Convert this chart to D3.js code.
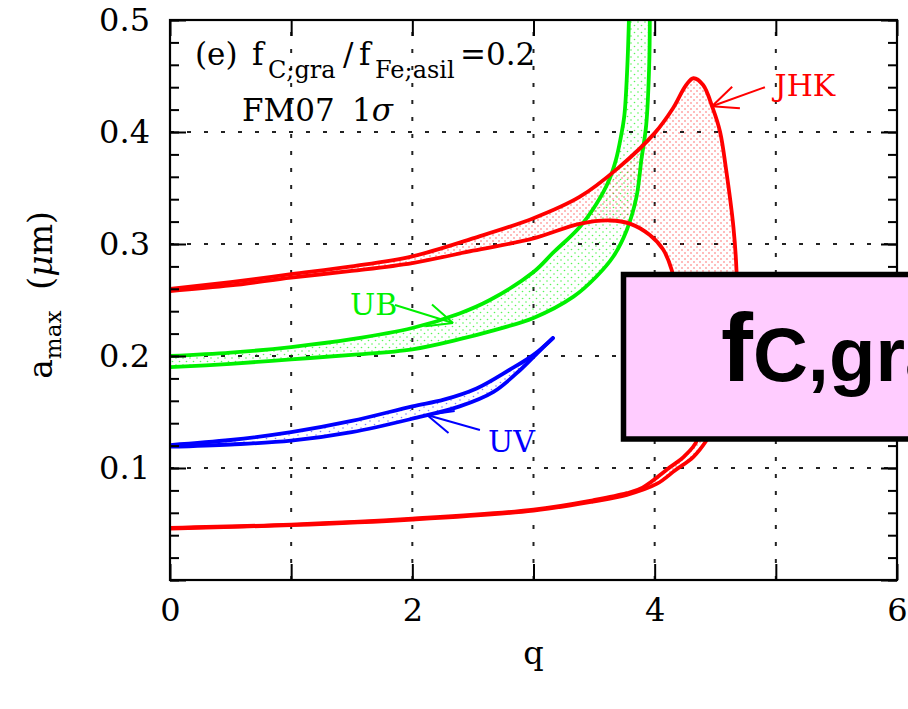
<!DOCTYPE html>
<html>
<head>
<meta charset="utf-8">
<script src="https://cdn.jsdelivr.net/npm/d3@7"></script>
<style>
  html, body { margin: 0; padding: 0; background: #fff; overflow: hidden; }
  svg { display: block; }
  .serif { font-family: "DejaVu Serif", serif; }
</style>
</head>
<body>
<svg id="chart" width="908" height="709"></svg>
<script>
// ---- data: [q, a_max (um)] ----
// JHK: outer boundary (top curve, round the right side, back along the bottom)
const jhkOuter = [[0,0.260],[0.5,0.266],[1,0.273],[1.5,0.280],[2,0.289],[2.5,0.305],[3,0.323],
  [3.38,0.342],[3.7,0.368],[4.0,0.399],[4.15,0.421],[4.26,0.442],[4.32,0.448],[4.4,0.442],
  [4.48,0.421],[4.54,0.400],[4.59,0.366],[4.65,0.315],[4.675,0.277],[4.68,0.24],[4.66,0.196],
  [4.6,0.165],[4.52,0.143],[4.43,0.125],[4.32,0.110],[4.17,0.098],[4.02,0.086],[3.77,0.076],
  [3.49,0.070],[3.0,0.062],[2.0,0.054],[1.0,0.049],[0,0.046]];
// JHK: inner boundary
const jhkInner = [[0,0.258],[0.5,0.263],[1,0.270],[1.5,0.276],[2,0.283],[2.5,0.294],[3,0.305],
  [3.38,0.318],[3.63,0.321],[3.80,0.318],[3.96,0.308],[4.07,0.295],[4.14,0.277],[4.2,0.241],
  [4.26,0.205],[4.31,0.17],[4.34,0.143],[4.35,0.125],[4.24,0.110],[4.13,0.101],[3.9,0.0825],
  [3.77,0.0775],[3.49,0.0712],[3.0,0.0628],[2.0,0.0548],[1.0,0.0495],[0,0.0465]];
// UB band
const ubUpper = [[0,0.200],[0.5,0.203],[1,0.208],[1.5,0.215],[2,0.225],[2.39,0.238],[2.64,0.250],
  [3.0,0.275],[3.16,0.292],[3.38,0.315],[3.52,0.336],[3.62,0.356],[3.68,0.375],[3.72,0.395],
  [3.75,0.415],[3.775,0.46],[3.79,0.51]];
const ubLower = [[0,0.190],[0.5,0.193],[1,0.197],[1.5,0.201],[2,0.206],[2.39,0.215],[2.64,0.222],
  [3.0,0.234],[3.33,0.253],[3.52,0.271],[3.66,0.289],[3.77,0.3125],[3.85,0.342],[3.89,0.375],
  [3.93,0.406],[3.955,0.46],[3.96,0.51]];
// UV band
const uvUpper = [[0,0.1205],[0.5,0.125],[1,0.132],[1.5,0.142],[2,0.155],[2.26,0.161],[2.53,0.171],
  [2.8,0.1875],[3.0,0.201],[3.16,0.216]];
const uvLower = [[0,0.119],[0.5,0.121],[1,0.1244],[1.5,0.132],[2,0.144],[2.39,0.155],[2.67,0.168],
  [2.89,0.1875],[3.03,0.2024],[3.16,0.216]];

const xTicks = [0, 1, 2, 3, 4, 5, 6];
const xTickLabels = [0, 2, 4, 6];
const yTicks = [0, 0.1, 0.2, 0.3, 0.4, 0.5];
const yMinorTicks = d3.range(0, 0.5001, 0.02);
const gridX = [1, 2, 3, 4, 5];
const gridY = [0.1, 0.2, 0.3, 0.4];

const RED = '#ff0000', GREEN = '#00f000', BLUE = '#0000ff';

const svg = d3.select('#chart');
const x = d3.scaleLinear().domain([0, 6]).range([170, 897]);
const y = d3.scaleLinear().domain([0, 0.5]).range([580, 20]);

// dot fill patterns
const defs = svg.append('defs');
const dotPattern = (id, color, w, h, op) => {
  const p = defs.append('pattern').attr('id', id).attr('patternUnits', 'userSpaceOnUse')
    .attr('width', w).attr('height', h);
  p.append('circle').attr('cx', 1).attr('cy', 1).attr('r', 0.8).attr('fill', color).attr('opacity', op);
  p.append('circle').attr('cx', 1 + w / 2).attr('cy', 1 + h / 2).attr('r', 0.8).attr('fill', color).attr('opacity', op);
};
dotPattern('dotRed', RED, 6, 6, 0.6);
dotPattern('dotGreen', GREEN, 7, 7, 0.65);
dotPattern('dotBlue', BLUE, 9, 7, 0.5);

defs.append('clipPath').attr('id', 'plotClip')
  .append('rect').attr('x', 170).attr('y', 20).attr('width', 727).attr('height', 560);

// grid
const grid = svg.append('g').attr('stroke', '#222').attr('stroke-width', 2).attr('stroke-dasharray', '4,13');
grid.selectAll('.gx').data(gridX).enter().append('line')
  .attr('x1', d => x(d)).attr('x2', d => x(d)).attr('y1', y(0)).attr('y2', y(0.5));
grid.selectAll('.gy').data(gridY).enter().append('line')
  .attr('y1', d => y(d)).attr('y2', d => y(d)).attr('x1', x(0)).attr('x2', x(6));

const line = d3.line().x(d => x(d[0])).y(d => y(d[1])).curve(d3.curveCatmullRom.alpha(0.5));
const band = (a, b) => line(a) + 'L' + line(b.slice().reverse()).slice(1) + 'Z';

const plot = svg.append('g').attr('clip-path', 'url(#plotClip)');

// shaded regions
plot.append('path').attr('d', band(ubUpper, ubLower)).attr('fill', 'url(#dotGreen)');
plot.append('path').attr('d', band(jhkOuter, jhkInner)).attr('fill', 'url(#dotRed)');
plot.append('path').attr('d', band(uvUpper, uvLower)).attr('fill', 'url(#dotBlue)');

// boundary curves
const curves = [
  { pts: ubUpper, color: GREEN }, { pts: ubLower, color: GREEN },
  { pts: jhkOuter, color: RED }, { pts: jhkInner, color: RED },
  { pts: uvUpper, color: BLUE }, { pts: uvLower, color: BLUE }
];
plot.selectAll('.curve').data(curves).enter().append('path')
  .attr('d', d => line(d.pts)).attr('fill', 'none').attr('stroke', d => d.color)
  .attr('stroke-width', 3.8).attr('stroke-linejoin', 'round').attr('stroke-linecap', 'round');

// labels with arrows
const labels = [
  { text: 'JHK', color: RED, pos: [4.99, 0.432], tail: [4.91, 0.440], tip: [4.473, 0.423] },
  { text: 'UB', color: GREEN, pos: [1.486, 0.2366], tail: [1.857, 0.2455], tip: [2.336, 0.2295] },
  { text: 'UV', color: BLUE, pos: [2.624, 0.1143], tail: [2.558, 0.134], tip: [2.121, 0.1473] }
];
labels.forEach(l => {
  const tx = x(l.tail[0]), ty = y(l.tail[1]), hx = x(l.tip[0]), hy = y(l.tip[1]);
  const ang = Math.atan2(ty - hy, tx - hx);
  const g = svg.append('g').attr('stroke', l.color).attr('stroke-width', 2).attr('fill', 'none');
  g.append('line').attr('x1', tx).attr('y1', ty).attr('x2', hx).attr('y2', hy);
  [-0.42, 0.42].forEach(da => {
    g.append('line').attr('x1', hx).attr('y1', hy)
      .attr('x2', hx + 28 * Math.cos(ang + da)).attr('y2', hy + 28 * Math.sin(ang + da));
  });
  svg.append('text').attr('class', 'serif').attr('x', x(l.pos[0])).attr('y', y(l.pos[1]))
    .attr('font-size', 30).attr('fill', l.color).text(l.text);
});

// axes (ticks inside)
const axes = svg.append('g').attr('class', 'serif');
axes.append('g').attr('transform', `translate(0,${y(0)})`)
  .call(d3.axisBottom(x).tickValues(xTicks).tickSize(-16).tickPadding(18)
    .tickFormat(d => xTickLabels.includes(d) ? d : ''));
axes.append('g').attr('transform', `translate(0,${y(0.5)})`)
  .call(d3.axisTop(x).tickValues(xTicks).tickSize(-16).tickFormat(''));
const axLeft = axes.append('g').attr('transform', `translate(${x(0)},0)`)
  .call(d3.axisLeft(y).tickValues(yTicks).tickSize(-16).tickPadding(20).tickFormat(d3.format('.1f')));
axLeft.selectAll('.tick').filter(d => d === 0).select('text').remove();
axes.append('g').attr('transform', `translate(${x(6)},0)`)
  .call(d3.axisRight(y).tickValues(yTicks).tickSize(-16).tickFormat(''));
axes.append('g').attr('transform', `translate(${x(0)},0)`)
  .call(d3.axisLeft(y).tickValues(yMinorTicks).tickSize(-9).tickFormat(''));
axes.append('g').attr('transform', `translate(${x(6)},0)`)
  .call(d3.axisRight(y).tickValues(yMinorTicks).tickSize(-9).tickFormat(''));
axes.selectAll('.domain').remove();
axes.selectAll('.tick line').attr('stroke', '#000').attr('stroke-width', 2);
axes.selectAll('.tick text').attr('font-size', 32).attr('fill', '#000')
  .attr('font-family', '"DejaVu Serif", serif');

svg.append('rect').attr('x', x(0)).attr('y', y(0.5)).attr('width', x(6) - x(0)).attr('height', y(0) - y(0.5))
  .attr('fill', 'none').attr('stroke', '#000').attr('stroke-width', 2.2);

// axis titles
svg.append('text').attr('class', 'serif').attr('x', x(3)).attr('y', 664)
  .attr('text-anchor', 'middle').attr('font-size', 32).text('q');
const yl = svg.append('text').attr('class', 'serif').attr('transform', 'translate(52,295) rotate(-90)')
  .attr('text-anchor', 'middle').attr('font-size', 33);
yl.append('tspan').text('a');
yl.append('tspan').attr('font-size', 23).attr('dy', 9).text('max');
yl.append('tspan').attr('dy', -9).text('\u00a0\u00a0(');
yl.append('tspan').attr('font-style', 'italic').text('\u03bc');
yl.append('tspan').text('m)');

// panel annotation
const ann = svg.append('text').attr('class', 'serif').attr('font-size', 31).attr('fill', '#000');
ann.append('tspan').attr('x', 195).attr('y', 65).text('(e)');
ann.append('tspan').attr('x', 252).attr('y', 65).text('f');
ann.append('tspan').attr('x', 268).attr('y', 78).attr('font-size', 24).text('C;gra');
ann.append('tspan').attr('x', 343).attr('y', 65).text('/');
ann.append('tspan').attr('x', 359).attr('y', 65).text('f');
ann.append('tspan').attr('x', 375).attr('y', 78).attr('font-size', 24).text('Fe;asil');
ann.append('tspan').attr('x', 460).attr('y', 65).text('=0.2');
const ann2 = svg.append('text').attr('class', 'serif').attr('font-size', 31).attr('fill', '#000');
ann2.append('tspan').attr('x', 242).attr('y', 121).text('FM07');
ann2.append('tspan').attr('x', 352).attr('y', 121).text('1');
ann2.append('tspan').attr('font-style', 'italic').text('\u03c3');

// overlay box
svg.append('rect').attr('x', 623.5).attr('y', 274.5).attr('width', 400).attr('height', 164.5)
  .attr('fill', '#ffccff').attr('stroke', '#000').attr('stroke-width', 5.5);
const bt = svg.append('text').attr('x', 721).attr('y', 381)
  .attr('font-family', '"Liberation Sans", Arial, sans-serif').attr('font-weight', 'bold').attr('fill', '#000');
bt.append('tspan').attr('font-size', 96).text('f');
bt.append('tspan').attr('font-size', 76).text('C,gra/fFe,asil=0.2');
</script>
</body>
</html>
